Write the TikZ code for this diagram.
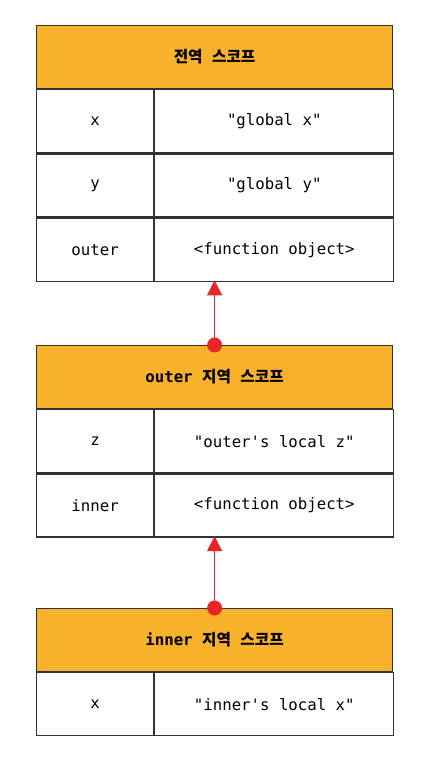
\documentclass[tikz,border=0pt]{standalone}
\usepackage{fontspec}
\setmonofont{DejaVu Sans Mono}
\newfontfamily\krfont{Noto Sans CJK KR}[Scale=1.0]
\usetikzlibrary{arrows.meta,positioning}
\definecolor{scopeorange}{HTML}{F7B12B}
\definecolor{cellline}{HTML}{333333}
\definecolor{linkred}{HTML}{E8262A}

\begin{document}
\begin{tikzpicture}[x=1pt,y=-1pt]
\tikzset{
  cell/.style={draw=cellline,line width=1.2pt,minimum height=63pt,inner sep=0pt,font=\fontsize{15.7}{18}\selectfont\ttfamily},
  header/.style={cell,fill=scopeorange,minimum width=356pt,font=\fontsize{15.7}{18}\selectfont\ttfamily\bfseries},
  keycell/.style={cell,minimum width=117pt},
  valcell/.style={cell,minimum width=239pt},
  scopelink/.style={draw=linkred,line width=0.7pt,-{Triangle[length=15pt,width=15pt]},shorten >=-1.5pt},
  linkdot/.style={circle,fill=linkred,inner sep=0pt,minimum size=15pt}
}
\useasboundingbox (0,0) rectangle (434,769);
% global scope
\node[header,anchor=north west] (g_head) at (36,25) {{\krfont 전역} {\krfont 스코프}};
\node[keycell,below right=0pt and 0pt of g_head.south west] (g_x) {x};
\node[valcell,right=0pt of g_x] (g_xval) {"global x"};
\node[keycell,below=0pt of g_x] (g_y) {y};
\node[valcell,right=0pt of g_y] (g_yval) {"global y"};
\node[keycell,below=0pt of g_y] (g_outer) {outer};
\node[valcell,right=0pt of g_outer] (g_outerval) {<function object>};
% outer scope
\node[header,anchor=north west] (o_head) at (36,345) {outer {\krfont 지역} {\krfont 스코프}};
\node[keycell,below right=0pt and 0pt of o_head.south west] (o_z) {z};
\node[valcell,right=0pt of o_z] (o_zval) {"outer's local z"};
\node[keycell,below=0pt of o_z] (o_inner) {inner};
\node[valcell,right=0pt of o_inner] (o_innerval) {<function object>};
% inner scope
\node[header,anchor=north west] (i_head) at (36,608) {inner {\krfont 지역} {\krfont 스코프}};
\node[keycell,below right=0pt and 0pt of i_head.south west] (i_x) {x};
\node[valcell,right=0pt of i_x] (i_xval) {"inner's local x"};
% scope chain
\coordinate (g_bottom) at (g_head.center |- g_outerval.south);
\coordinate (o_bottom) at (o_head.center |- o_innerval.south);
\node[linkdot] (o_dot) at (o_head.north) {};
\node[linkdot] (i_dot) at (i_head.north) {};
\draw[scopelink] (o_dot.center) -- (g_bottom);
\draw[scopelink] (i_dot.center) -- (o_bottom);
\end{tikzpicture}
\end{document}
